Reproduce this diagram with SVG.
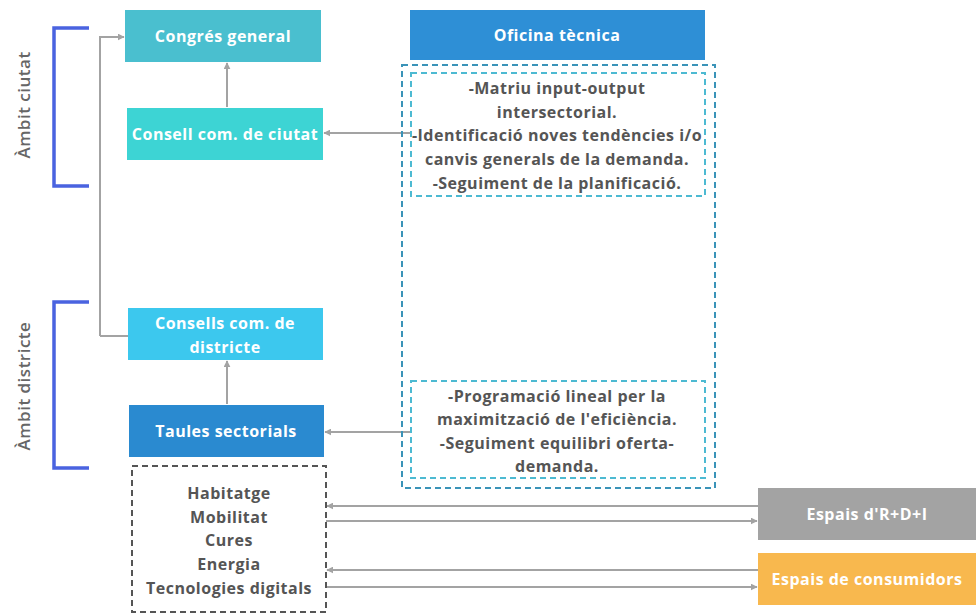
<svg xmlns="http://www.w3.org/2000/svg" width="976" height="614" viewBox="0 0 976 614">
<defs>
<marker id="ah" viewBox="0 0 10 10" refX="9" refY="5" markerWidth="7" markerHeight="7" markerUnits="userSpaceOnUse" orient="auto"><path d="M0,0 L10,5 L0,10 z" fill="#a3a3a3"/></marker>
<style>
.box text{font-family:"Open Sans","Liberation Sans",sans-serif;font-weight:700;font-size:16px;letter-spacing:0.5px;fill:#fff;text-anchor:middle}
.dtext{font-family:"Open Sans","Liberation Sans",sans-serif;font-weight:700;font-size:16px;letter-spacing:0.5px;fill:#555;text-anchor:middle}
.side{font-family:"Open Sans","Liberation Sans",sans-serif;font-weight:600;font-size:17px;letter-spacing:0.5px;fill:#666;text-anchor:middle}
.con{fill:none;stroke:#a3a3a3;stroke-width:2}
.br{fill:none;stroke:#4a63e0;stroke-width:3.5}
</style>
</defs>
<rect width="976" height="614" fill="#fff"/>
<g id="ambit-ciutat">
<path class="br" d="M89,28 H54 V186 H89"/>
<text class="side" transform="translate(30,105) rotate(-90)">Àmbit ciutat</text>
</g>
<g id="ambit-districte">
<path class="br" d="M89,302 H54 V468 H89"/>
<text class="side" transform="translate(30,386) rotate(-90)">Àmbit districte</text>
</g>
<g id="connectors">
<path class="con" d="M100,336 H128 M100,336 V37 H124" marker-end="url(#ah)"/>
<path class="con" d="M227,107 V63" marker-end="url(#ah)"/>
<path class="con" d="M410,133 H324" marker-end="url(#ah)"/>
<path class="con" d="M227,404 V361" marker-end="url(#ah)"/>
<path class="con" d="M410,432 H325" marker-end="url(#ah)"/>
<path class="con" d="M758,506 H327" marker-end="url(#ah)"/>
<path class="con" d="M326,521 H757" marker-end="url(#ah)"/>
<path class="con" d="M758,570 H327" marker-end="url(#ah)"/>
<path class="con" d="M326,587 H757" marker-end="url(#ah)"/>
</g>
<g id="congres-general" class="box">
<rect x="125" y="10" width="196" height="52" fill="#4abfcf"/>
<text x="223" y="42">Congrés general</text>
</g>
<g id="consell-ciutat" class="box">
<rect x="127" y="108" width="196" height="52" fill="#3dd4d4"/>
<text x="225" y="140">Consell com. de ciutat</text>
</g>
<g id="consells-districte" class="box">
<rect x="128" y="308" width="195" height="52" fill="#3cc8ee"/>
<text x="225" y="329">Consells com. de</text>
<text x="225" y="353">districte</text>
</g>
<g id="taules-sectorials" class="box">
<rect x="129" y="405" width="195" height="52" fill="#2a8ad0"/>
<text x="226" y="437">Taules sectorials</text>
</g>
<g id="oficina-tecnica" class="box">
<rect x="410" y="10" width="295" height="50" fill="#2e8fd6"/>
<text x="557" y="41">Oficina tècnica</text>
</g>
<g id="oficina-area">
<rect x="402" y="65" width="313" height="423" fill="none" stroke="#3a93b8" stroke-width="2" stroke-dasharray="6,4"/>
</g>
<g id="funcions-ciutat">
<rect x="411" y="73" width="294" height="123" fill="none" stroke="#4dbad2" stroke-width="2" stroke-dasharray="6,4"/>
<text class="dtext" x="557" y="94">-Matriu input-output</text>
<text class="dtext" x="557" y="118">intersectorial.</text>
<text class="dtext" x="557" y="141">-Identificació noves tendències i/o</text>
<text class="dtext" x="557" y="165">canvis generals de la demanda.</text>
<text class="dtext" x="557" y="189">-Seguiment de la planificació.</text>
</g>
<g id="funcions-districte">
<rect x="411" y="381" width="294" height="97" fill="none" stroke="#4dbad2" stroke-width="2" stroke-dasharray="6,4"/>
<text class="dtext" x="557" y="402">-Programació lineal per la</text>
<text class="dtext" x="557" y="425">maximització de l'eficiència.</text>
<text class="dtext" x="557" y="449">-Seguiment equilibri oferta-</text>
<text class="dtext" x="557" y="472">demanda.</text>
</g>
<g id="sectors">
<rect x="132" y="466" width="194" height="146" fill="none" stroke="#555" stroke-width="2" stroke-dasharray="6,4"/>
<text class="dtext" x="229" y="499">Habitatge</text>
<text class="dtext" x="229" y="523">Mobilitat</text>
<text class="dtext" x="229" y="546">Cures</text>
<text class="dtext" x="229" y="570">Energia</text>
<text class="dtext" x="229" y="594">Tecnologies digitals</text>
</g>
<g id="espais-rdi" class="box">
<rect x="758" y="488" width="218" height="52" fill="#a3a3a3"/>
<text x="867" y="520">Espais d'R+D+I</text>
</g>
<g id="espais-consumidors" class="box">
<rect x="758" y="553" width="218" height="52" fill="#f8b84e"/>
<text x="867" y="585" fill="#fff8e0">Espais de consumidors</text>
</g>
</svg>
